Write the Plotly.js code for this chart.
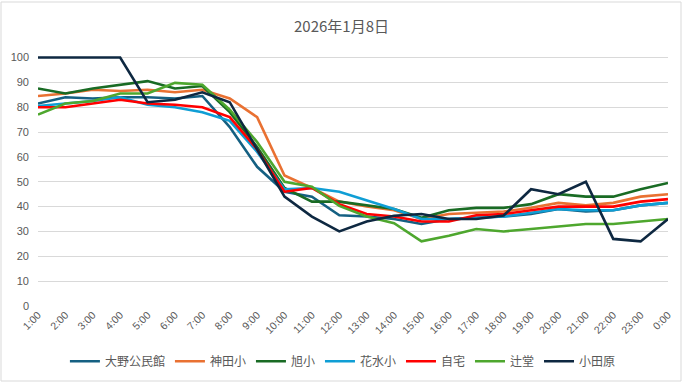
<!DOCTYPE html>
<html><head><meta charset="utf-8">
<script src="https://cdn.plot.ly/plotly-3.0.1.min.js"></script>
<style>html,body{margin:0;padding:0;background:#fff}#chart{width:683px;height:383px}</style>
</head><body><div id="chart"></div>
<script>
const hours = ["1:00","2:00","3:00","4:00","5:00","6:00","7:00","8:00","9:00","10:00","11:00","12:00","13:00","14:00","15:00","16:00","17:00","18:00","19:00","20:00","21:00","22:00","23:00","0:00"];
const ono     = [81.5,84,83.5,84,84,83.5,84.5,72,56,46,44,36.5,36,35,33,35,35.5,36,37,39,38,38.5,40.5,41.5];
const kanda   = [84.5,85.5,87,86.5,87,86,87,83.5,76,52.5,47.5,42,40,38.5,35,37,37.5,38,39.5,41.5,40.5,41.5,44,45];
const asahi   = [87.5,85.5,87.5,89,90.5,87.5,88.5,78,64,47.5,42,42,40.5,39,35.5,38.5,39.5,39.5,41,45,44,44,47,49.5];
const hanamizu= [80.5,81.5,82.5,84,81,80,78,74.5,62,47,47.5,46,42.5,39,35,35,35.5,36,37.5,39,38.5,38.5,40.5,41.5];
const jitaku  = [80,80,81.5,83,81.5,81,80,76,63,46,47.5,41,37,36,34,34,36.5,37,38.5,40,40,40,42,43];
const tsujido = [77,81.5,82.5,85.5,85.5,89.8,89,79,66,50,48,40.3,36,33.3,26,28.3,31,30,31,32,33,33,34,35];
const odawara = [100,100,100,100,82,83,86,82,63,44,36,30,34,36.3,37,35,35,36.4,47,45,50,27,26,35];
const names = ["大野公民館","神田小","旭小","花水小","自宅","辻堂","小田原"];
const series = [ono,kanda,asahi,hanamizu,jitaku,tsujido,odawara];
const colors = ["#156082","#E97132","#196B24","#0F9ED5","#FF0000","#4EA72E","#0E2841"];
const yTicks = [0,10,20,30,40,50,60,70,80,90,100];

const traces = series.map((s,i)=>({
  x: hours, y: s, name: names[i], type:'scatter', mode:'lines',
  line:{color:colors[i], width:2.6}
}));
const font = "Liberation Sans, Arial, sans-serif";
const cjk = "'Noto Sans CJK JP', sans-serif";
const layout = {
  width:683, height:383,
  margin:{l:38, r:15, t:55, b:77, autoexpand:false},
  paper_bgcolor:'#fff', plot_bgcolor:'#fff',
  title:{text:"2026年1月8日", font:{family:cjk, size:15, color:'#595959'}, x:0.5, xanchor:'center', y:0.93, yanchor:'middle'},
  xaxis:{type:'category', tickangle:-45, tickfont:{family:font, size:10.5, color:'#595959'},
    showgrid:false, showline:false, zeroline:false, ticks:'', automargin:false},
  yaxis:{range:[0,101], tickvals:yTicks, tickfont:{family:font, size:11, color:'#595959'},
    gridcolor:'#d9d9d9', gridwidth:1, zeroline:false, showline:false, ticks:'', ticklabelstandoff:8, automargin:false},
  showlegend:true,
  legend:{orientation:'h', x:0.484, xanchor:'center', y:-0.22, yanchor:'middle',
    font:{family:cjk, size:12, color:'#595959'}, itemwidth:30, traceorder:'normal'},
  shapes:[{type:'rect', xref:'paper', yref:'paper', x0:-37/630, x1:(630+13)/630, y0:-75/251, y1:(251+53)/251,
    line:{color:'#d9d9d9', width:1}, fillcolor:'rgba(0,0,0,0)', layer:'below'}]
};
Plotly.newPlot('chart', traces, layout, {staticPlot:true, displayModeBar:false});
</script></body></html>
